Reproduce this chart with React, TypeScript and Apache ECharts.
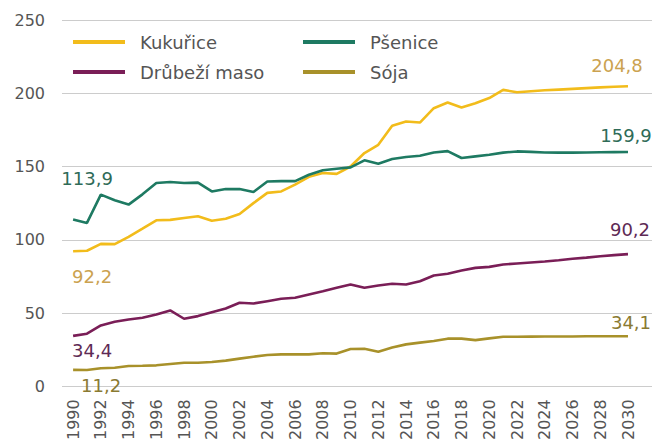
import React, { useEffect, useRef } from "react";
import * as echarts from "echarts";

const years = [
  1990, 1991, 1992, 1993, 1994, 1995, 1996, 1997, 1998, 1999,
  2000, 2001, 2002, 2003, 2004, 2005, 2006, 2007, 2008, 2009,
  2010, 2011, 2012, 2013, 2014, 2015, 2016, 2017, 2018, 2019,
  2020, 2021, 2022, 2023, 2024, 2025, 2026, 2027, 2028, 2029, 2030,
];

const xTickLabels = [
  1990, 1992, 1994, 1996, 1998, 2000, 2002, 2004, 2006, 2008, 2010,
  2012, 2014, 2016, 2018, 2020, 2022, 2024, 2026, 2028, 2030,
];

const yTicks = [0, 50, 100, 150, 200, 250];

const kukurice = [
  92.2, 92.5, 97.2, 97.0, 102.0, 107.6, 113.3, 113.6, 114.9, 116.0,
  113.0, 114.4, 117.6, 125.0, 132.0, 133.0, 137.6, 143.0, 145.6, 145.0,
  150.0, 159.2, 164.8, 177.8, 180.7, 180.0, 189.8, 193.7, 190.3, 193.2,
  196.7, 202.3, 200.7, 201.4, 202.0, 202.5, 203.0, 203.5, 204.0, 204.4, 204.8,
];

const psenice = [
  113.9, 111.5, 130.8, 127.0, 124.0, 131.0, 138.7, 139.4, 138.7, 139.0,
  133.0, 134.6, 134.6, 132.6, 139.8, 140.0, 140.0, 144.4, 147.5, 148.5,
  149.4, 154.2, 151.9, 155.1, 156.5, 157.4, 159.6, 160.5, 155.8, 156.9,
  158.0, 159.5, 160.3, 160.0, 159.6, 159.5, 159.5, 159.6, 159.7, 159.8, 159.9,
];

const drubez = [
  34.4, 35.9, 41.5, 44.0, 45.6, 46.8, 49.0, 51.8, 46.1, 47.9,
  50.6, 53.1, 57.0, 56.5, 58.1, 59.7, 60.4, 62.7, 64.9, 67.2,
  69.5, 67.2, 68.8, 70.0, 69.5, 71.7, 75.6, 76.8, 79.0, 80.8,
  81.5, 83.1, 83.8, 84.5, 85.2, 86.0, 87.0, 87.8, 88.7, 89.5, 90.2,
];

const soja = [
  11.2, 11.1, 12.3, 12.7, 13.8, 14.0, 14.3, 15.2, 16.1, 16.1,
  16.6, 17.5, 18.9, 20.2, 21.3, 21.8, 21.9, 21.8, 22.5, 22.3,
  25.4, 25.6, 23.6, 26.4, 28.6, 29.8, 30.9, 32.5, 32.5, 31.5,
  32.7, 33.8, 33.8, 33.9, 34.0, 34.0, 34.0, 34.1, 34.1, 34.1, 34.1,
];

const seriesNames = ["Kukuřice", "Pšenice", "Drůbeží maso", "Sója"];

const FONT = "DejaVu Sans";

const fmt = (v: number) => v.toFixed(1).replace(".", ",");

type LabelSpec = { color: string; first: [number, number]; last: [number, number] };

function buildData(values: number[], spec: LabelSpec) {
  const n = values.length;
  return values.map((v, i) => {
    const item: any = { value: [years[i], v] };
    if (i === 0 || i === n - 1) {
      item.label = {
        show: true,
        position: "inside",
        offset: i === 0 ? spec.first : spec.last,
        formatter: fmt(v),
        color: spec.color,
        fontFamily: FONT,
        fontSize: 18,
      };
    }
    return item;
  });
}

export default function App() {
  const ref = useRef<HTMLDivElement>(null);

  useEffect(() => {
    if (!ref.current) return;
    const chart = echarts.init(ref.current, null, { renderer: "svg" });

    const lineSeries = (
      name: string,
      values: number[],
      color: string,
      spec: LabelSpec
    ) => ({
      name,
      type: "line",
      data: buildData(values, spec),
      symbol: "circle",
      symbolSize: 0,
      showSymbol: true,
      itemStyle: { color },
      lineStyle: { color, width: 2.6 },
      label: { show: false },
      z: 3,
    });

    const legendCommon = {
      orient: "vertical",
      icon: "rect",
      itemWidth: 52,
      itemHeight: 4,
      itemGap: 10,
      top: 27,
      textStyle: {
        fontFamily: FONT,
        fontSize: 18,
        lineHeight: 20,
        color: "#555",
        padding: [0, 0, 0, 10],
      },
      selectedMode: false,
    };

    chart.setOption({
      animation: false,
      backgroundColor: "#ffffff",
      grid: { left: 62, right: 13, top: 20, bottom: 56, containLabel: false },
      legend: [
        { ...legendCommon, left: 68, data: [seriesNames[0], seriesNames[2]] },
        { ...legendCommon, left: 298, data: [seriesNames[1], seriesNames[3]] },
      ],
      xAxis: {
        type: "value",
        min: 1989.2,
        max: 2031.73,
        axisLine: { show: false },
        axisTick: { show: false },
        splitLine: { show: false },
        axisLabel: {
          customValues: xTickLabels,
          rotate: 90,
          margin: 13,
          fontFamily: FONT,
          fontSize: 16,
          color: "#555",
          formatter: (v: number) => String(v),
        },
      },
      yAxis: {
        type: "value",
        min: yTicks[0],
        max: yTicks[yTicks.length - 1],
        interval: 50,
        axisLine: { show: false },
        axisTick: { show: false },
        splitLine: { lineStyle: { color: "#cccccc", width: 1 } },
        axisLabel: {
          margin: 17,
          fontFamily: FONT,
          fontSize: 16,
          color: "#555",
        },
      },
      series: [
        lineSeries(seriesNames[0], kukurice, "#F2BC1B", {
          color: "#CBA250",
          first: [19, 25],
          last: [-11, -21],
        }),
        lineSeries(seriesNames[1], psenice, "#1E7A62", {
          color: "#2F6B58",
          first: [14, -41],
          last: [-2, -17],
        }),
        lineSeries(seriesNames[2], drubez, "#7A1E57", {
          color: "#5E2A55",
          first: [19, 15],
          last: [2, -25],
        }),
        lineSeries(seriesNames[3], soja, "#A8912A", {
          color: "#8A7A32",
          first: [28, 16],
          last: [3, -14],
        }),
      ],
    });

    return () => chart.dispose();
  }, []);

  return (
    <div
      ref={ref}
      style={{ position: "absolute", left: 0, top: 0, width: 665, height: 443 }}
    />
  );
}
